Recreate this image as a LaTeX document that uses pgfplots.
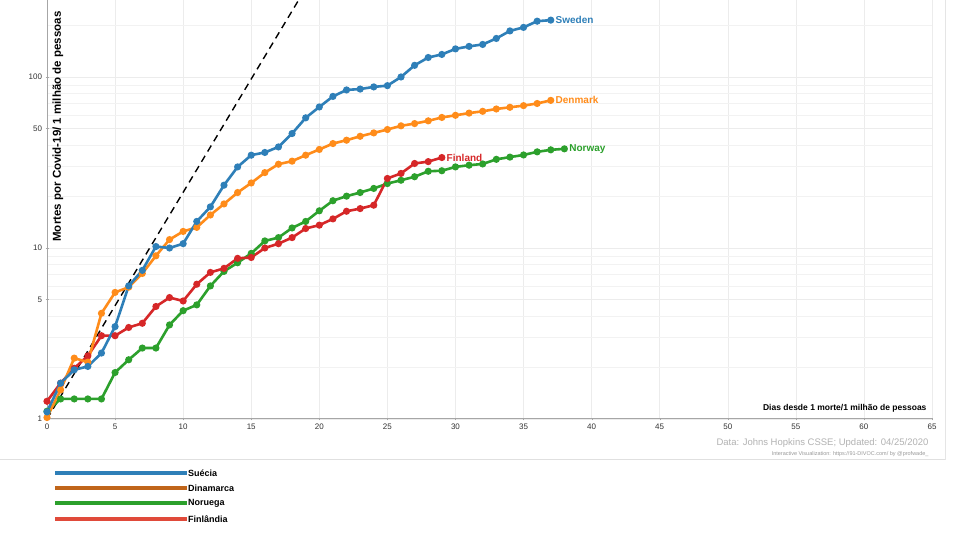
\documentclass[border=0pt]{standalone}
\usepackage{pgfplots}
\pgfplotsset{compat=1.18}
\usepackage{fontspec}
\setmainfont{Liberation Sans}
\definecolor{cswe}{HTML}{2E7FB8}
\definecolor{cden}{HTML}{FF8C1A}
\definecolor{cnor}{HTML}{2CA02C}
\definecolor{cfin}{HTML}{D62728}
\definecolor{lden}{HTML}{C0651A}
\definecolor{lfin}{HTML}{E04A3A}
\begin{document}
\begin{tikzpicture}[x=1pt,y=1pt]
\path[use as bounding box, fill=white] (0,0) rectangle (960,540);
\begin{axis}[at={(47pt,121pt)}, anchor=south west, scale only axis,
  width=885pt, height=419pt,
  xmin=0, xmax=65, ymode=log, ymin=1, ymax=282,
  axis lines=left, axis line style={-, gray!70, line width=1pt},
  xtick={0,5,...,65}, ytick={1,5,10,50,100}, yticklabels={1,5,10,50,100},
  minor ytick={2,3,4,6,7,8,9,20,30,40,60,70,80,90,200},
  log ticks with fixed point,
  grid=both, major grid style={gray!15}, minor grid style={gray!10},
  tick style={gray!70}, major tick length=3pt, minor tick length=0pt,
  tick label style={font=\fontsize{8}{9}\selectfont, text=black!80},
  /pgf/number format/assume math mode=true,
  clip=true, mark size=2.2pt, every axis plot/.append style={line width=2.6pt}]
\addplot[black, line width=1.4pt, dash pattern=on 7pt off 5pt, mark=none] coordinates {(0,1) (19,330)};
\addplot[cnor, mark=*] coordinates {(0,1.11)(1,1.31)(2,1.31)(3,1.31)(4,1.31)(5,1.87)(6,2.22)(7,2.6)(8,2.6)(9,3.55)(10,4.3)(11,4.65)(12,6.0)(13,7.3)(14,8.2)(15,9.3)(16,11.0)(17,11.5)(18,13.1)(19,14.3)(20,16.5)(21,18.9)(22,20.1)(23,21.1)(24,22.3)(25,23.8)(26,24.9)(27,26.1)(28,28.1)(29,28.3)(30,29.8)(31,30.5)(32,31)(33,33)(34,34)(35,35)(36,36.5)(37,37.5)(38,38)};
\addplot[cfin, mark=*] coordinates {(0,1.27)(1,1.62)(2,1.98)(3,2.34)(4,3.07)(5,3.07)(6,3.43)(7,3.63)(8,4.55)(9,5.13)(10,4.9)(11,6.14)(12,7.2)(13,7.6)(14,8.7)(15,8.8)(16,10)(17,10.6)(18,11.5)(19,13)(20,13.6)(21,14.8)(22,16.4)(23,17.0)(24,17.8)(25,25.5)(26,27.3)(27,31.2)(28,32)(29,33.8)};
\addplot[cden, mark=*] coordinates {(0,1.02)(1,1.48)(2,2.27)(3,2.15)(4,4.15)(5,5.5)(6,5.9)(7,7.1)(8,9.0)(9,11.2)(10,12.5)(11,13.2)(12,15.6)(13,18.1)(14,21.1)(15,24)(16,27.6)(17,30.9)(18,32.2)(19,34.9)(20,37.7)(21,40.8)(22,42.7)(23,45)(24,47.1)(25,49.3)(26,51.8)(27,53.4)(28,55.4)(29,58)(30,59.7)(31,61.5)(32,63)(33,65)(34,66.5)(35,68)(36,70)(37,73)};
\addplot[cswe, mark=*] coordinates {(0,1.1)(1,1.62)(2,1.94)(3,2.03)(4,2.43)(5,3.47)(6,6.0)(7,7.4)(8,10.2)(9,10)(10,10.6)(11,14.3)(12,17.4)(13,23.3)(14,29.8)(15,34.9)(16,36.2)(17,39)(18,46.7)(19,57.7)(20,66.8)(21,77)(22,84)(23,85)(24,87.5)(25,89)(26,100)(27,117)(28,130)(29,135.5)(30,146)(31,151)(32,155)(33,168)(34,186)(35,195)(36,212)(37,215)};
\node[anchor=west, text=cswe, font=\bfseries\fontsize{10}{12}\selectfont] at (axis cs:37.1,215) {Sweden};
\node[anchor=west, text=cden, font=\bfseries\fontsize{10}{12}\selectfont] at (axis cs:37.1,73) {Denmark};
\node[anchor=west, text=cnor, font=\bfseries\fontsize{10}{12}\selectfont] at (axis cs:38.1,38) {Norway};
\node[anchor=west, text=cfin, font=\bfseries\fontsize{10}{12}\selectfont] at (axis cs:29.1,33.8) {Finland};
\end{axis}
\node[overlay, rotate=90, anchor=east, font=\bfseries\fontsize{11.5}{13}\selectfont] at (58,532) {Mortes por Covid-19/ 1 milhão de pessoas};
\node[anchor=east, font=\bfseries\fontsize{8.5}{10}\selectfont] at (930,132) {Dias desde 1 morte/1 milhão de pessoas};
\node[anchor=east, text=black!30, font=\fontsize{9.5}{11}\selectfont] at (932,97) {Data: Johns Hopkins CSSE; Updated: 04/25/2020};
\node[anchor=east, text=black!40, font=\fontsize{5.5}{6}\selectfont] at (932,86) {Interactive Visualization: https://91-DIVOC.com/ by @profwade\_};
\draw[black!12, line width=1pt] (0,80) -- (945,80);
\draw[black!10, line width=0.6pt] (945,80) -- (945,540);
\foreach \y/\c/\t in {67/cswe/Suécia,52/lden/Dinamarca,37/cnor/Noruega,21/lfin/Finlândia}{
  \draw[\c, line width=4pt] (55,\y) -- (187,\y);
  \node[anchor=west, inner sep=1pt, font=\bfseries\fontsize{9}{10}\selectfont] at (187,\y) {\t};
}
\end{tikzpicture}
\end{document}
